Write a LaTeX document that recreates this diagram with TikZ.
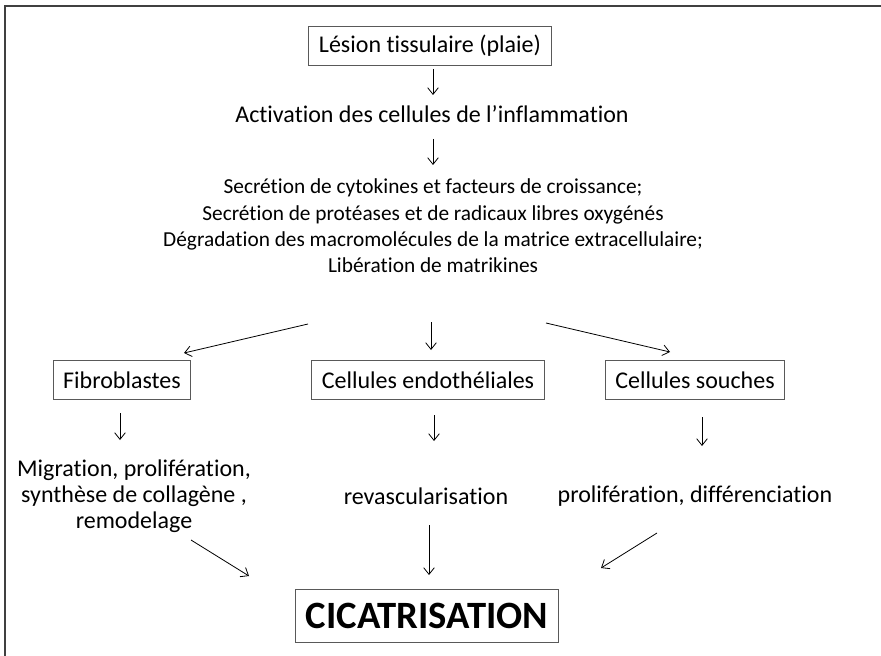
\documentclass[tikz,border=0pt]{standalone}
\usepackage{fontspec}
\setmainfont[Ligatures=NoCommon]{Carlito}
\usetikzlibrary{arrows.meta}
\begin{document}
\begin{tikzpicture}[x=0.75pt,y=-0.75pt,>={Straight Barb[length=5pt,width=8pt]},
  boite/.style={draw=black!65,line width=0.8pt,minimum height=29pt,inner xsep=7.5pt},
  texte/.style={align=center,font=\fontsize{18}{19.5}\selectfont},
  fleche/.style={->,line width=0.6pt}]
\useasboundingbox (0,0) rectangle (881,656);
% cadre
\draw[line width=2.2pt,color=black!75] (5,660)--(5,6)--(885,6);
% les noeuds
\node[boite,texte] (lesion) at (430,46) {Lésion tissulaire (plaie)};
\node[texte] (activ) at (432,114) {Activation des cellules de l’inflammation};
\node[texte,font=\fontsize{16}{19.8}\selectfont] (secr) at (433,226) {Secrétion de cytokines et facteurs de croissance;\\
  Secrétion de protéases et de radicaux libres oxygénés\\
  Dégradation des macromolécules de la matrice extracellulaire;\\
  Libération de matrikines};
\node[boite,texte] (fibro) at (122,380) {Fibroblastes};
\node[boite,texte] (endo) at (428,380) {Cellules endothéliales};
\node[boite,texte] (souches) at (695,380) {Cellules souches};
\node[texte] (migr) at (134,496) {Migration, prolifération,\\synthèse de collagène ,\\remodelage};
\node[texte] (revasc) at (426,496) {revascularisation};
\node[texte] (prolif) at (695,496) {prolifération, différenciation};
\node[boite,font=\fontsize{29}{32}\selectfont\bfseries,minimum height=40pt,inner xsep=8pt] (cicat) at (427,616) {CICATRISATION};
% extremites des fleches
\coordinate (a1) at (433,69);  \coordinate (b1) at (433,95);
\coordinate (a2) at (433,139); \coordinate (b2) at (433,165);
\coordinate (a3) at (308,324); \coordinate (b3) at (184,353);
\coordinate (a4) at (431,322); \coordinate (b4) at (431,350);
\coordinate (a5) at (546,323); \coordinate (b5) at (670,352);
\coordinate (a6) at (120,413); \coordinate (b6) at (120,440);
\coordinate (a7) at (434,415); \coordinate (b7) at (434,441);
\coordinate (a8) at (702,417); \coordinate (b8) at (702,446);
\coordinate (a9) at (191,540); \coordinate (b9) at (249,576);
\coordinate (a10) at (429,525); \coordinate (b10) at (429,575);
\coordinate (a11) at (657,533); \coordinate (b11) at (601,568);
% les fleches
\foreach \i in {1,...,11}
\draw[fleche] (a\i)--(b\i);
\end{tikzpicture}
\end{document}
